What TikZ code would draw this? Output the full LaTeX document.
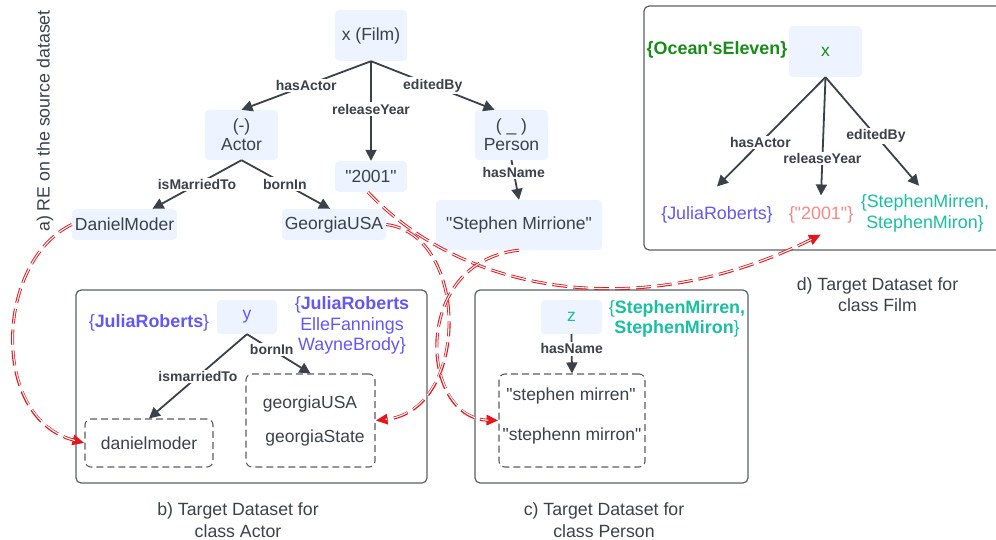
\documentclass[tikz,border=0pt]{standalone}
\usepackage{fontspec}
\setmainfont{Liberation Sans}[Ligatures=TeXOff]
\usetikzlibrary{arrows.meta}

\definecolor{ink}{HTML}{3A414A}
\definecolor{nodefill}{HTML}{EDF4FF}
\definecolor{boxline}{HTML}{5A5F66}
\definecolor{setpurple}{HTML}{6357F5}
\definecolor{setteal}{HTML}{19BFA0}
\definecolor{setgreen}{HTML}{178C17}
\definecolor{setsalmon}{HTML}{FF8585}
\definecolor{linkred}{HTML}{E5161B}

\newcommand\mainsz{\fontsize{17.5pt}{19pt}\selectfont}
\newcommand\labelsz{\fontsize{14pt}{15pt}\selectfont}
\newcommand\setsz{\fontsize{17.9pt}{20.5pt}\selectfont}
\newcommand\capsz{\fontsize{17.7pt}{21.5pt}\selectfont}

\begin{document}
\begin{tikzpicture}[x=1pt,y=-1pt,
  entity/.style={fill=nodefill, rounded corners=4pt, text=ink, font=\mainsz,
    align=center, inner sep=0pt},
  dashbox/.style={draw=ink!85, dash pattern=on 7pt off 4pt, line width=1.1pt,
    rounded corners=6pt, text=ink, font=\mainsz, inner sep=0pt},
  valtext/.style={text=ink, font=\mainsz, inner sep=0pt},
  panel/.style={draw=boxline, line width=1.2pt, rounded corners=5pt},
  rel/.style={draw=ink, line width=1.8pt, -{Triangle[length=11pt,width=11pt]}},
  rellabel/.style={fill=white, text=ink, font=\labelsz\bfseries, inner sep=1.5pt},
  setlabel/.style={font=\setsz, align=center, inner sep=2pt},
  caption/.style={font=\capsz, text=ink, align=center, inner sep=0pt},
  link/.style={draw=linkred, line width=3pt, dash pattern=on 15pt off 6pt,
    -{Triangle[length=12pt,width=10pt]},
    postaction={draw=white, line width=1.1pt, -, shorten >=10pt}}
]
\useasboundingbox (0,0) rectangle (996,540);
\clip (0,0) rectangle (996,540);

% ---- a) query graph on the source dataset ----
\node[caption, font=\fontsize{17.8pt}{20pt}\selectfont, rotate=90] (srclabel) at (45,121) {a) RE on the source dataset};

\node[entity, minimum width=72pt, minimum height=51pt] (film) at (371,35.5) {x (Film)};
\node[entity, minimum width=73pt, minimum height=50pt] (actor) at (241.5,135) {(-)\\Actor};
\node[entity, minimum width=72pt, minimum height=31pt] (year) at (371,176.5) {"2001"};
\node[entity, minimum width=73pt, minimum height=50pt] (person) at (511.5,135) {( \_ )\\Person};
\node[entity, minimum width=105pt, minimum height=31pt] (daniel) at (124.5,224.5) {DanielModer};
\node[entity, minimum width=104pt, minimum height=31pt] (georgia) at (334,224.5) {GeorgiaUSA};
\node[entity, minimum width=166pt, minimum height=50pt] (mirrione) at (519,225) {"Stephen Mirrione"};

\draw[rel] (film.south) -- node[rellabel, pos=0.5] {hasActor} (actor.north);
\draw[rel] (film.south) -- node[rellabel, pos=0.48] {releaseYear} (year.north);
\draw[rel] (film.south) -- node[rellabel, pos=0.5] {editedBy} ([xshift=-17pt]person.north);
\draw[rel] (actor.south) -- node[rellabel, pos=0.5] {isMarriedTo} ([xshift=28pt]daniel.north);
\draw[rel] (actor.south) -- node[rellabel, pos=0.49] {bornIn} ([xshift=-4pt]georgia.north);
\draw[rel] (person.south) -- node[rellabel, pos=0.3] {hasName} (mirrione.north);

% ---- b) target dataset, class Actor ----
\draw[panel] (76,290) rectangle (427,483);
\node[entity, minimum width=60pt, minimum height=34pt, text=setpurple] (yvar) at (247,317) {y};
\node[setlabel, text=setpurple] (yleft) at (149,323) {\{\textbf{JuliaRoberts}\}};
\node[setlabel, text=setpurple] (yright) at (352,325.5) {\{\textbf{JuliaRoberts}\\ElleFannings\\WayneBrody\}};
\node[dashbox, minimum width=128pt, minimum height=48pt] (dmval) at (149,443) {danielmoder};
\node[dashbox, minimum width=129pt, minimum height=93pt] (geoval) at (310.5,420.5) {};
\node[valtext] (geo1) at (310,404) {georgiaUSA};
\node[valtext] (geo2) at (315,438) {georgiaState};
\draw[rel] (yvar.south) -- node[rellabel, pos=0.5] {ismarriedTo} (dmval.north);
\draw[rel] (yvar.south) -- node[rellabel, pos=0.39] {bornIn} (geoval.north);
\node[caption] (capb) at (238,520) {b) Target Dataset for\\class Actor};

% ---- c) target dataset, class Person ----
\draw[panel] (475,290) rectangle (748,483);
\node[entity, minimum width=61pt, minimum height=34pt, text=setteal] (zvar) at (571.5,317) {z};
\node[setlabel, text=setteal] (zset) at (677,319) {\{\textbf{StephenMirren,}\\\textbf{StephenMiron}\}};
\node[dashbox, minimum width=146pt, minimum height=93pt] (nameval) at (572,420.5) {};
\node[valtext] (name1) at (571,396) {"stephen mirren"};
\node[valtext] (name2) at (572,436) {"stephenn mirron"};
\draw[rel] (zvar.south) -- node[rellabel, pos=0.375] {hasName} (nameval.north);
\node[caption] (capc) at (604,520) {c) Target Dataset for\\class Person};

% ---- d) target dataset, class Film ----
\draw[panel] (644,6) rectangle (1004,250);
\node[entity, minimum width=73pt, minimum height=51pt, text=setgreen] (xvar) at (825.5,51.5) {x};
\node[setlabel, text=setgreen, font=\setsz\bfseries] (xset) at (717,50) {\{Ocean'sEleven\}};
\node[setlabel, text=setpurple, inner ysep=20pt] (actset) at (717,215) {\{JuliaRoberts\}};
\node[setlabel, text=setsalmon, inner ysep=11pt] (yearset) at (821,215) {\{"2001"\}};
\node[setlabel, text=setteal, inner ysep=9pt] (nameset) at (925,213.5) {\{StephenMirren,\\StephenMiron\}};
\draw[rel] (xvar.south) -- node[rellabel, pos=0.6] {hasActor} (actset.north);
\draw[rel] (xvar.south) -- node[rellabel, pos=0.69] {releaseYear} (yearset.north);
\draw[rel] (xvar.south) -- node[rellabel, pos=0.54] {editedBy} ([xshift=-6pt]nameset.north);
\node[caption] (capd) at (877.5,294.5) {d) Target Dataset for\\class Film};

% ---- value links from the source graph to the target datasets ----
\draw[link] (daniel.west) .. controls (-5,262) and (-10,418) .. (dmval.west);
\draw[link] (georgia.east) .. controls (470,235) and (470,410) .. (geoval.east);
\draw[link] ([xshift=-3pt]year.south) .. controls (470,300) and (650,320) .. (yearset.south);
\draw[link] (mirrione.south) .. controls (410,262) and (420,418) .. (nameval.west);
\end{tikzpicture}
\end{document}
